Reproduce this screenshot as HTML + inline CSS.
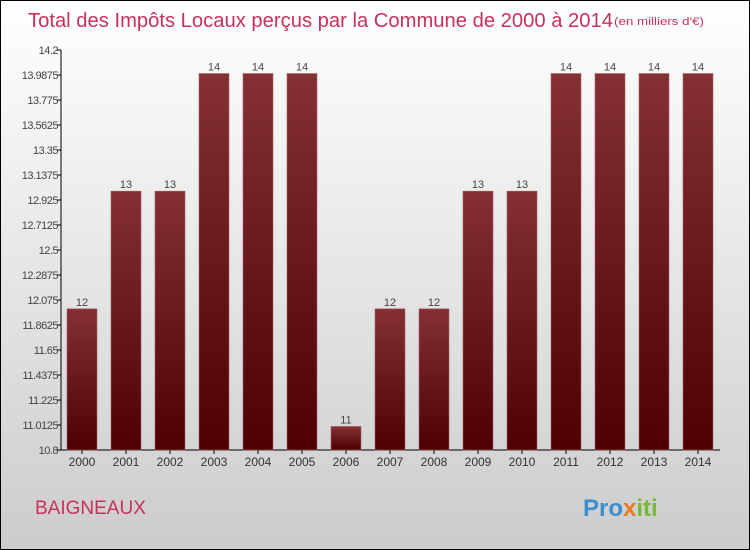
<!DOCTYPE html>
<html><head><meta charset="utf-8"><style>
body{margin:0;width:750px;height:550px;overflow:hidden;font-family:"Liberation Sans",sans-serif}
#wrap{position:absolute;left:0;top:0;width:748px;height:548px;border:1px solid #000;background:linear-gradient(#ffffff,#f0f0f0 30%,#cccccc)}
</style></head><body>
<div id="wrap">
<svg width="750" height="550" style="position:absolute;left:-1px;top:-1px">
<defs><linearGradient id="bg" x1="0" y1="0" x2="0" y2="1"><stop offset="0" stop-color="#843034"/><stop offset="1" stop-color="#4f0000"/></linearGradient></defs>
<text x="28" y="27" font-size="20" fill="#c8325a" textLength="585" lengthAdjust="spacingAndGlyphs">Total des Impôts Locaux perçus par la Commune de 2000 à 2014</text>
<text x="614" y="25" font-size="11" fill="#c8325a" textLength="90" lengthAdjust="spacingAndGlyphs">(en milliers d'€)</text>
<g id="axes"></g><g id="bars"></g>
<text x="35" y="514" font-size="19" fill="#c8325a">BAIGNEAUX</text>
<text x="583" y="516" font-size="24" font-weight="bold"><tspan fill="#3a8fd0">Pro</tspan><tspan fill="#e87b1c">x</tspan><tspan fill="#7ab83a">iti</tspan></text>
</svg></div>
<script>
const categories=["2000","2001","2002","2003","2004","2005","2006","2007","2008","2009","2010","2011","2012","2013","2014"];
const values=[12,13,13,14,14,14,11,12,12,13,13,14,14,14,14];
const tickLabels=["10.8","11.0125","11.225","11.4375","11.65","11.8625","12.075","12.2875","12.5","12.7125","12.925","13.1375","13.35","13.5625","13.775","13.9875","14.2"];
const yMin=10.8,yMax=14.2,plotTop=50,plotBot=450,plotLeft=60,band=44;
const NS="http://www.w3.org/2000/svg";
const yS=v=>plotBot-(v-yMin)/(yMax-yMin)*(plotBot-plotTop);
const xS=i=>plotLeft+band*i+band/2;
function mk(t,a,p){const e=document.createElementNS(NS,t);for(const k in a)e.setAttribute(k,a[k]);p.appendChild(e);return e;}
const ax=document.getElementById('axes'),bg=document.getElementById('bars');
let l=mk('line',{x1:61,y1:plotTop,x2:61,y2:plotBot,stroke:'#000'},ax);


l=mk('line',{x1:61,y1:plotBot,x2:720,y2:plotBot,stroke:'#000'},ax);


tickLabels.forEach(s=>{const yy=yS(parseFloat(s));
mk('line',{x1:57,y1:yy,x2:61,y2:yy,stroke:'#000'},ax);
const t=mk('text',{x:58,y:yy+4,'font-size':11,'text-anchor':'end',fill:'#444','letter-spacing':'-0.5'},ax);t.textContent=s;

});
categories.forEach((c,i)=>{const cx=xS(i),v=values[i];
mk('line',{x1:cx,y1:plotBot,x2:cx,y2:plotBot+4,stroke:'#000'},ax);
const t=mk('text',{x:cx,y:plotBot+16,'font-size':12,'text-anchor':'middle',fill:'#333'},ax);t.textContent=c;


const r=mk('rect',{x:cx-15,y:yS(v),width:30,height:plotBot-yS(v),fill:'url(#bg)',stroke:'#a06060','stroke-width':0.6},bg);


const lb=mk('text',{x:cx,y:yS(v)-3,'font-size':11,'text-anchor':'middle',fill:'#444'},bg);lb.textContent=v;

});
</script>
</body></html>
